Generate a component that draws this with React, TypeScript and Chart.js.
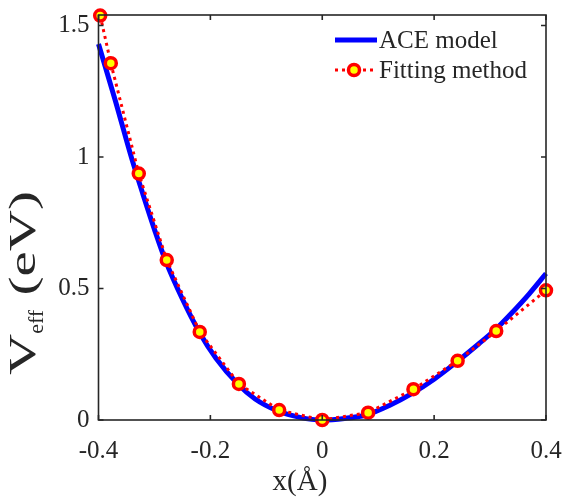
import { useEffect, useRef } from "react";
import { Chart, registerables } from "chart.js";
Chart.register(...registerables);

const aceX = [-0.4, -0.37, -0.34, -0.32, -0.3, -0.28, -0.25, -0.22, -0.19, -0.15, -0.12, -0.08, -0.04, 0, 0.04, 0.08, 0.12, 0.16, 0.2, 0.24, 0.28, 0.31, 0.34, 0.37, 0.4];
const aceY = [1.43, 1.215, 0.99, 0.855, 0.725, 0.605, 0.46, 0.335, 0.235, 0.135, 0.08, 0.035, 0.01, 0, 0.006, 0.02, 0.055, 0.1, 0.155, 0.22, 0.29, 0.345, 0.41, 0.48, 0.557];
const fitX = [-0.397, -0.378, -0.328, -0.278, -0.219, -0.149, -0.077, 0, 0.082, 0.163, 0.242, 0.311, 0.4];
const fitY = [1.538, 1.357, 0.937, 0.608, 0.335, 0.137, 0.038, 0, 0.028, 0.117, 0.225, 0.338, 0.493];
const xTicks = [-0.4, -0.2, 0, 0.2, 0.4];
const yTicks = [0, 0.5, 1, 1.5];
const seriesNames = ["ACE model", "Fitting method"];

const FONT = '"Liberation Serif", "DejaVu Serif", serif';
const TXT = "#262626";

const decor = {
  id: "decor",
  afterDraw(chart: any) {
    const { ctx, chartArea: a, scales } = chart;
    const xs = scales.x, ys = scales.y;
    ctx.save();
    ctx.strokeStyle = TXT;
    ctx.lineWidth = 1.6;
    ctx.strokeRect(a.left, a.top, a.right - a.left, a.bottom - a.top);
    const tl = 5;
    ctx.beginPath();
    xTicks.forEach((t) => {
      const px = xs.getPixelForValue(t);
      ctx.moveTo(px, a.bottom); ctx.lineTo(px, a.bottom - tl);
      ctx.moveTo(px, a.top); ctx.lineTo(px, a.top + tl);
    });
    yTicks.forEach((t) => {
      const py = ys.getPixelForValue(t);
      ctx.moveTo(a.left, py); ctx.lineTo(a.left + tl, py);
      ctx.moveTo(a.right, py); ctx.lineTo(a.right - tl, py);
    });
    ctx.stroke();

    // x title
    ctx.fillStyle = TXT;
    ctx.font = `29px ${FONT}`;
    ctx.textAlign = "center";
    ctx.textBaseline = "alphabetic";
    ctx.fillText("x(Å)", 300, 490);

    // y title
    ctx.save();
    ctx.translate(35, 375);
    ctx.rotate(-Math.PI / 2);
    ctx.textAlign = "left";
    ctx.font = `38px ${FONT}`;
    const s = 1.5;
    ctx.save();
    ctx.scale(s, 1);
    const wV = ctx.measureText("V").width;
    ctx.fillText("V", 0, 0);
    ctx.restore();
    ctx.font = `22px ${FONT}`;
    const wE = ctx.measureText("eff").width;
    ctx.fillText("eff", wV * s, 8);
    ctx.font = `38px ${FONT}`;
    ctx.save();
    ctx.translate(wV * s + wE, 0);
    ctx.scale(s, 1);
    ctx.fillText(" (eV)", 0, 0);
    ctx.restore();
    ctx.restore();

    // legend
    ctx.font = `25px ${FONT}`;
    ctx.textAlign = "left";
    ctx.textBaseline = "middle";
    ctx.strokeStyle = "#0000ff";
    ctx.lineWidth = 5;
    ctx.beginPath();
    ctx.moveTo(335, 40); ctx.lineTo(377, 40);
    ctx.stroke();
    ctx.fillStyle = TXT;
    ctx.fillText(seriesNames[0], 379, 41);
    ctx.strokeStyle = "#ff0000";
    ctx.lineWidth = 3;
    ctx.setLineDash([3, 4]);
    ctx.beginPath();
    ctx.moveTo(335, 70); ctx.lineTo(374, 70);
    ctx.stroke();
    ctx.setLineDash([]);
    ctx.beginPath();
    ctx.arc(354, 70, 5.5, 0, Math.PI * 2);
    ctx.fillStyle = "#ffff00";
    ctx.fill();
    ctx.lineWidth = 3.5;
    ctx.strokeStyle = "#ff0000";
    ctx.stroke();
    ctx.fillStyle = TXT;
    ctx.fillText(seriesNames[1], 379, 71);
    ctx.restore();
  },
};

export default function App() {
  const ref = useRef<HTMLCanvasElement>(null);
  useEffect(() => {
    const chart = new Chart(ref.current!, {
      type: "scatter",
      data: {
        datasets: [
          {
            label: seriesNames[1],
            data: fitX.map((x, i) => ({ x, y: fitY[i] })),
            showLine: true,
            borderColor: "#ff0000",
            borderWidth: 3,
            borderDash: [3, 4],
            pointRadius: 5.5,
            pointBorderWidth: 3.5,
            pointBorderColor: "#ff0000",
            pointBackgroundColor: "#ffff00",
            tension: 0,
            clip: false as any,
          },
          {
            label: seriesNames[0],
            data: aceX.map((x, i) => ({ x, y: aceY[i] })),
            showLine: true,
            borderColor: "#0000ff",
            borderWidth: 5,
            pointRadius: 0,
            cubicInterpolationMode: "monotone",
            clip: false as any,
          },
        ],
      },
      options: {
        responsive: false,
        animation: false,
        layout: { padding: { top: 15, right: 17, left: 0, bottom: 0 } },
        plugins: { legend: { display: false }, tooltip: { enabled: false } },
        scales: {
          x: {
            type: "linear",
            min: -0.4,
            max: 0.4,
            afterBuildTicks: (s: any) => { s.ticks = xTicks.map((v) => ({ value: v })); },
            afterFit: (s: any) => { s.height = 77; s.paddingLeft = 0; s.paddingRight = 0; },
            grid: { display: false, drawTicks: false },
            border: { display: false },
            ticks: {
              color: TXT,
              font: { family: FONT, size: 25 },
              padding: 16,
              maxRotation: 0,
              callback: (v: any) => String(v),
            },
          },
          y: {
            type: "linear",
            min: 0,
            max: 1.54,
            afterBuildTicks: (s: any) => { s.ticks = yTicks.map((v) => ({ value: v })); },
            afterFit: (s: any) => { s.width = 98.5; s.paddingTop = 0; s.paddingBottom = 0; },
            grid: { display: false, drawTicks: false },
            border: { display: false },
            ticks: {
              color: TXT,
              font: { family: FONT, size: 25 },
              padding: 9,
              callback: (v: any) => String(v),
            },
          },
        },
      },
      plugins: [decor],
    });
    return () => chart.destroy();
  }, []);
  return (
    <div style={{ position: "absolute", left: 0, top: 0, width: 563, height: 497, background: "#fff" }}>
      <canvas ref={ref} width={563} height={497} />
    </div>
  );
}
